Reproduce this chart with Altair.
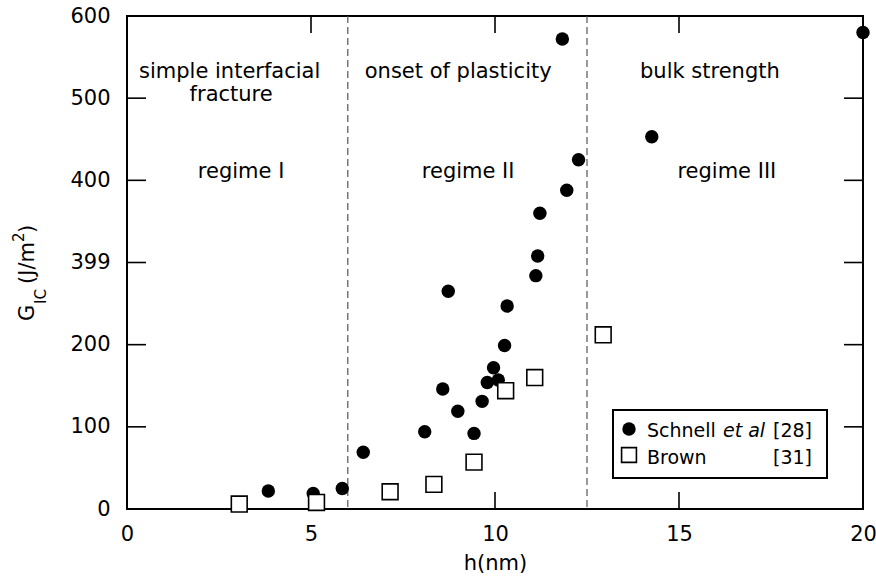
import altair as alt
import pandas as pd

# Fracture energy G_IC versus interfacial width h
schnell_h = [3.84, 5.06, 5.85, 6.42, 8.09, 8.58, 8.73, 8.99, 9.43, 9.65, 9.79, 9.96,
             10.09, 10.26, 10.33, 11.11, 11.16, 11.22, 11.83, 11.95, 12.27, 14.26, 20.0]
schnell_g = [22, 19, 25, 69, 94, 146, 265, 119, 92, 131, 154, 172,
             157, 199, 247, 284, 308, 360, 572, 388, 425, 453, 580]

brown_h = [3.05, 5.15, 7.15, 8.34, 9.43, 10.29, 11.08, 12.94]
brown_g = [6, 8, 21, 30, 57, 144, 160, 212]

# Regime boundaries (nm)
boundaries = [6.0, 12.5]

# Regime annotations
region_text = ["simple interfacial", "fracture", "regime I",
               "onset of plasticity", "regime II",
               "bulk strength", "regime III"]
region_x = [2.79, 2.83, 3.10, 9.0, 9.27, 15.84, 16.3]
region_y = [524, 497, 403, 524, 403, 524, 403]

x_ticks = [0, 5, 10, 15, 20]
y_ticks = [0, 100, 200, 300, 400, 500, 600]
inner_x_ticks = [5, 10, 15]
inner_y_ticks = [100, 200, 300, 400, 500]

W, H = 736, 493
FONT = "DejaVu Sans"
FS = 21
LFS = 19

schnell = pd.DataFrame({"h": schnell_h, "g": schnell_g})
brown = pd.DataFrame({"h": brown_h, "g": brown_g})
regions = pd.DataFrame({"h": region_x, "g": region_y, "t": region_text})

xscale = alt.Scale(domain=[0, 20], nice=False, zero=False)
yscale = alt.Scale(domain=[0, 600], nice=False)

xaxis = alt.Axis(values=x_ticks, ticks=False, domain=False, grid=False,
                 labelFont=FONT, labelFontSize=FS, labelColor="black",
                 labelPadding=14, title="h(nm)", titleFont=FONT,
                 titleFontSize=FS, titleFontWeight="normal", titleColor="black",
                 titlePadding=8, labelFlush=False)
yaxis = alt.Axis(values=y_ticks, ticks=False, domain=False, grid=False,
                 labelFont=FONT, labelFontSize=FS, labelColor="black",
                 labelPadding=17, title=None, labelFlush=False,
                 labelExpr="datum.value == 300 ? '399' : datum.label")

base_x = alt.X("h:Q", scale=xscale, axis=xaxis)
base_y = alt.Y("g:Q", scale=yscale, axis=yaxis)

# Dashed regime boundaries
bounds = alt.Chart(pd.DataFrame({"h": boundaries})).mark_rule(
    color="#555555", strokeWidth=1.2, strokeDash=[7, 4]
).encode(x=alt.X("h:Q", scale=xscale, axis=xaxis))

# Inward tick marks on all four sides
tick_len_v = 17
tick_len_h = 19
xt = pd.DataFrame({"h": inner_x_ticks})
yt = pd.DataFrame({"g": inner_y_ticks})
ticks_bottom = alt.Chart(xt).mark_rule(color="black", strokeWidth=1.6).encode(
    x=alt.X("h:Q", scale=xscale, axis=xaxis),
    y=alt.value(H), y2=alt.value(H - tick_len_v))
ticks_top = alt.Chart(xt).mark_rule(color="black", strokeWidth=1.6).encode(
    x=alt.X("h:Q", scale=xscale, axis=xaxis),
    y=alt.value(0), y2=alt.value(tick_len_v))
ticks_left = alt.Chart(yt).mark_rule(color="black", strokeWidth=1.6).encode(
    y=alt.Y("g:Q", scale=yscale, axis=yaxis),
    x=alt.value(0), x2=alt.value(tick_len_h))
ticks_right = alt.Chart(yt).mark_rule(color="black", strokeWidth=1.6).encode(
    y=alt.Y("g:Q", scale=yscale, axis=yaxis),
    x=alt.value(W), x2=alt.value(W - tick_len_h))

labels = alt.Chart(regions).mark_text(
    font=FONT, fontSize=FS, color="black", baseline="alphabetic", align="center"
).encode(x=base_x, y=base_y, text="t:N")

circles = alt.Chart(schnell).mark_point(
    shape="circle", filled=True, color="black", size=180, opacity=1
).encode(x=base_x, y=base_y)

squares = alt.Chart(brown).mark_point(
    shape="square", filled=True, fill="white", stroke="black",
    strokeWidth=1.6, size=250, opacity=1
).encode(x=base_x, y=base_y)

# Legend box
one = pd.DataFrame({"k": [0]})
leg_box = alt.Chart(one).mark_rect(
    fill="white", stroke="black", strokeWidth=2
).encode(x=alt.value(486), x2=alt.value(700), y=alt.value(394), y2=alt.value(462))
leg_circle = alt.Chart(one).mark_point(
    shape="circle", filled=True, color="black", size=180, opacity=1
).encode(x=alt.value(502), y=alt.value(413))
leg_square = alt.Chart(one).mark_point(
    shape="square", filled=True, fill="white", stroke="black",
    strokeWidth=1.6, size=220, opacity=1
).encode(x=alt.value(502), y=alt.value(439))


def leg_text(txt, x, y, style="normal", align="left"):
    return alt.Chart(one).mark_text(
        text=txt, font=FONT, fontSize=LFS, fontStyle=style, color="black",
        align=align, baseline="alphabetic"
    ).encode(x=alt.value(x), y=alt.value(y))


legend = [
    leg_box, leg_circle, leg_square,
    leg_text("Schnell", 520, 421),
    leg_text("et al", 596, 421, "italic"),
    leg_text("[28]", 685, 421, align="right"),
    leg_text("Brown", 520, 448),
    leg_text("[31]", 685, 448, align="right"),
]


# Y-axis title G_IC (J/m^2) built from pieces for sub/superscripts
def ytitle(txt, x, y, size):
    return alt.Chart(one).mark_text(
        text=txt, font=FONT, fontSize=size, color="black", angle=270,
        align="left", baseline="middle"
    ).encode(x=alt.value(x), y=alt.value(y))


ytitle_parts = [
    ytitle("G", -99, 305, FS),
    ytitle("IC", -86, 288, 15),
    ytitle("(J/m", -99, 268, FS),
    ytitle("2", -108, 226, 15),
    ytitle(")", -99, 217, FS),
]

chart = alt.layer(
    bounds, ticks_bottom, ticks_top, ticks_left, ticks_right,
    labels, circles, squares, *legend, *ytitle_parts
).properties(
    width=W, height=H,
    autosize=alt.AutoSizeParams(type="none"),
    padding={"left": 127, "top": 16, "right": 13, "bottom": 72},
    background="white",
).configure_view(stroke="black", strokeWidth=2)

chart.save("out.html", embed_options={"renderer": "svg", "actions": False})
